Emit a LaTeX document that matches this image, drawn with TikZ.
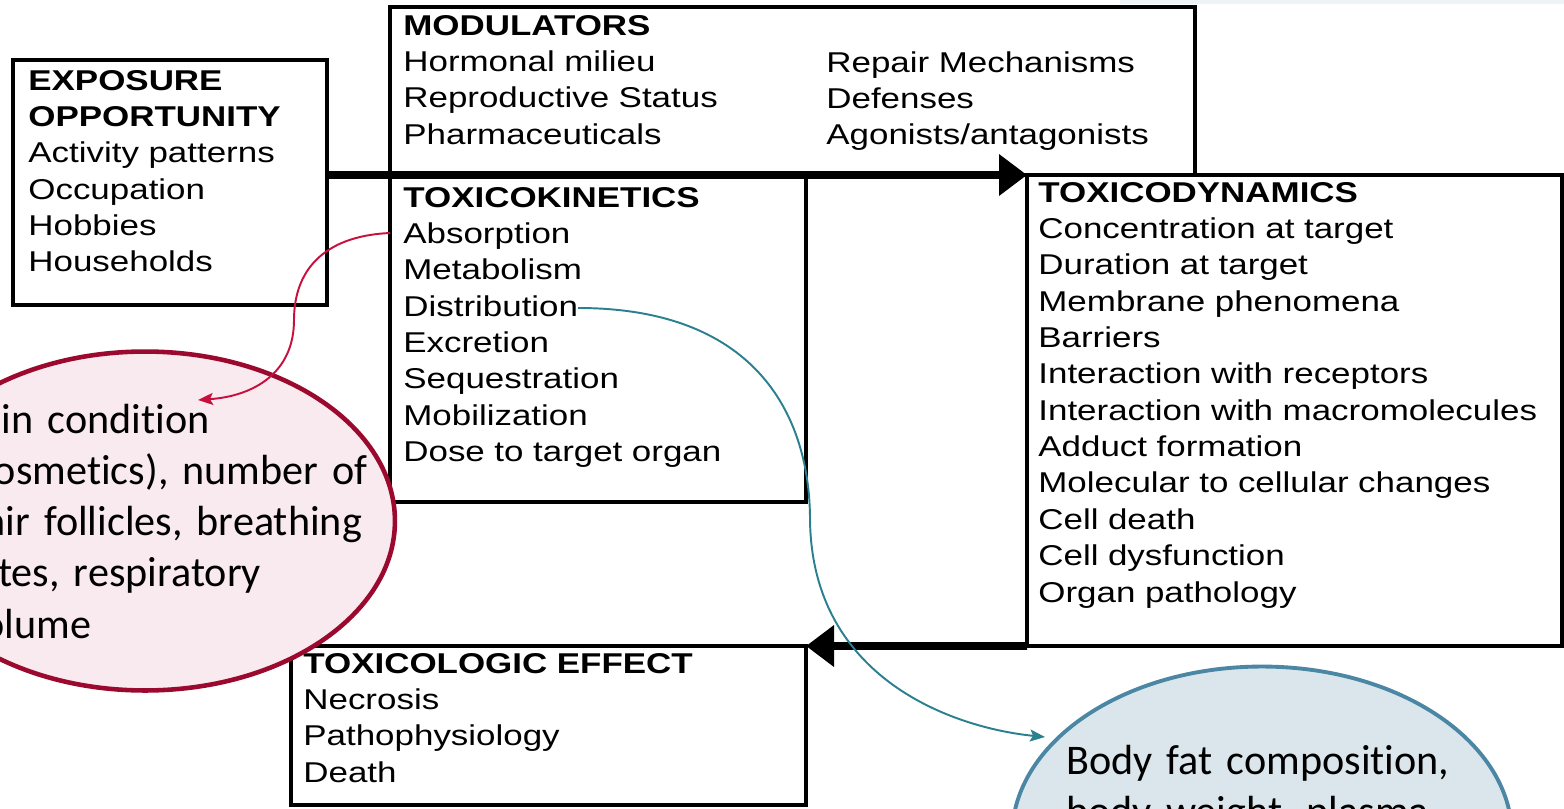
\documentclass[tikz,border=0pt]{standalone}
\usepackage{fontspec}
\setmainfont{Liberation Sans}[FakeStretch=1.22]
\newfontfamily\calfont{Carlito}[Ligatures=NoCommon]
\usetikzlibrary{positioning, arrows.meta, fit, shapes.geometric}

\definecolor{skinline}{HTML}{9B0A2E}
\definecolor{skinfill}{HTML}{F8EAEE}
\definecolor{curvered}{HTML}{C8103E}
\definecolor{fatline}{HTML}{4B87A4}
\definecolor{fatfill}{HTML}{DAE6EB}
\definecolor{curveteal}{HTML}{2A808F}
\definecolor{topband}{HTML}{EEF4F6}

\begin{document}
\begin{tikzpicture}[x=0.02cm, y=-0.02cm,
    box/.style={draw, line width=2pt, inner sep=0pt, outer sep=0pt},
    boxtext/.style={anchor=base west, inner sep=0pt, align=left, text width=11cm,
        font=\fontsize{16.3}{20.7}\selectfont},
    bigarrow/.style={line width=4.5pt, -{Triangle[length=0.56cm, width=0.8cm]}},
    bubble/.style={ellipse, line width=2.6pt, minimum width=10cm,
        minimum height=6.78cm, inner sep=0pt},
    bubbletext/.style={anchor=base west, inner sep=0pt, align=left, text width=9cm,
        font=\calfont\fontsize{24}{29.2}\selectfont},
    linkarrow/.style={line width=1.1pt, -{Stealth[length=0.3cm, width=0.24cm, inset=0.06cm]}}]

    \useasboundingbox (0,0) rectangle (1564,808);
    \clip (0,0) rectangle (1564,808);
    \fill[white] (0,0) rectangle (1564,808);
    \fill[topband] (1120,0) rectangle (1564,4);

    % Boxes
    \node[box, fit={(13,60) (327,305)}] (expo) {};
    \node[box, fit={(390,7) (1195,175)}] (modul) {};
    \node[box, fit={(390,175) (806,502)}] (tokin) {};
    \node[box, fit={(1027,175) (1562,646)}] (tody) {};
    \node[box, fit={(291,646) (806,805)}] (effect) {};

    % Box texts
    \node[boxtext] (expotext) at (28,90) {\textbf{EXPOSURE}\\\textbf{OPPORTUNITY}\\Activity patterns\\Occupation\\Hobbies\\Households};
    \node[boxtext] (modleft) at (403,35) {\textbf{MODULATORS}\\Hormonal milieu\\Reproductive Status\\Pharmaceuticals};
    \node[boxtext] (modright) at (826,72) {Repair Mechanisms\\Defenses\\Agonists/antagonists};
    \node[boxtext] (tokintext) at (403,207) {\textbf{TOXICOKINETICS}\\Absorption\\Metabolism\\Distribution\\Excretion\\Sequestration\\Mobilization\\Dose to target organ};
    \node[boxtext] (todytext) at (1038,202) {\textbf{TOXICODYNAMICS}\\Concentration at target\\Duration at target\\Membrane phenomena\\Barriers\\Interaction with receptors\\Interaction with macromolecules\\Adduct formation\\Molecular to cellular changes\\Cell death\\Cell dysfunction\\Organ pathology};
    \node[boxtext] (effecttext) at (303,673) {\textbf{TOXICOLOGIC EFFECT}\\Necrosis\\Pathophysiology\\Death};

    % Main flow
    \draw[bigarrow] (expo.east |- tokin.north) -- (tody.north west);
    \draw[bigarrow] (tody.south west) -- (effect.north east);

    % Bubbles
    \node[bubble, draw=skinline, fill=skinfill] (skin) at (145,521) {};
    \node[bubbletext] (skintext) at (-37,433) {\hspace*{0.914em}in condition\\\hspace*{0.726em}osmetics), number of\\\hspace*{0.525em}air follicles, breathing\\\hspace*{0.828em}tes, respiratory\\\hspace*{0.452em}olume};
    \node[bubble, draw=fatline, fill=fatfill, line width=2.2pt] (fat) at (1262,836) {};
    \node[bubbletext] (fattext) at (1066,774) {Body fat composition,\\body weight, plasma};

    % Links
    \coordinate (absorb) at (390,233);
    \coordinate (distrib) at (578,308);
    \coordinate (skintip) at (198,400);
    \coordinate (fattip) at (1045,737);
    \draw[linkarrow, curvered] (absorb) .. controls (322,236) and (294,272) .. (294,320)
        .. controls (294,372) and (255,396) .. (skintip);
    \draw[linkarrow, curveteal] (distrib) .. controls (760,308) and (810,420) .. (810,520)
        .. controls (812,680) and (955,728) .. (fattip);
\end{tikzpicture}
\end{document}
